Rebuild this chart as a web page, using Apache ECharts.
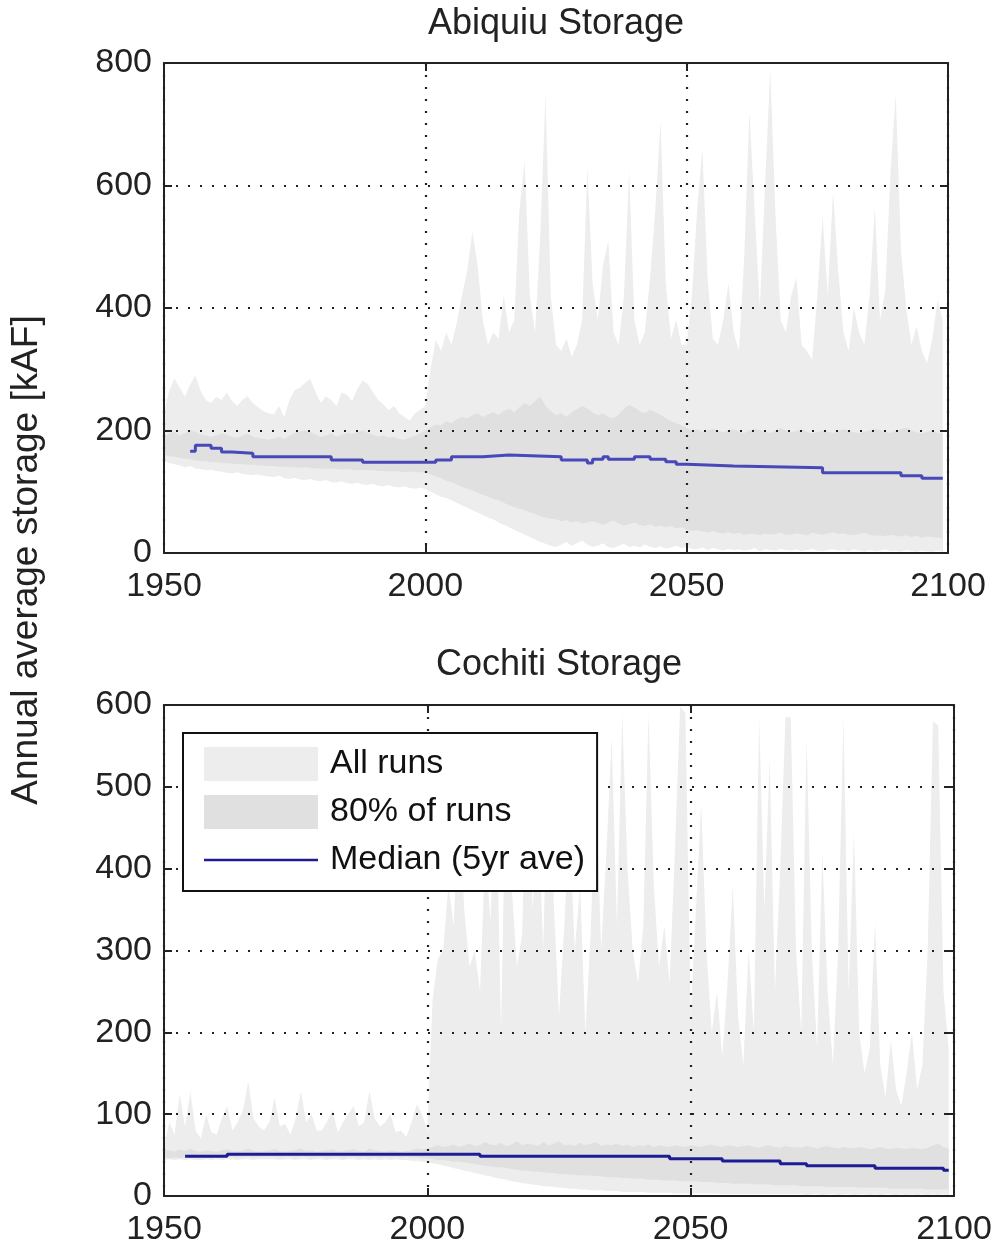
<!DOCTYPE html>
<html>
<head>
<meta charset="utf-8">
<script src="https://cdn.jsdelivr.net/npm/echarts@6/dist/echarts.min.js"></script>
<style>
html,body{margin:0;padding:0;background:#fff;}
#chart{width:996px;height:1253px;}
</style>
</head>
<body>
<div id="chart"></div>
<script>
// ---------------- DATA ----------------
const years = [];
for (let y = 1950; y <= 2099; y++) years.push(y);

const xTicks = [1950, 2000, 2050, 2100];
const abiquiuTicks = [0, 200, 400, 600, 800];
const cochitiTicks = [0, 100, 200, 300, 400, 500, 600];

const titles = ['Abiquiu Storage', 'Cochiti Storage'];
const yAxisName = 'Annual average storage [kAF]';
const legendNames = ['All runs', '80% of runs', 'Median (5yr ave)'];

// Abiquiu: envelope of all runs (max / min), 80% band (p90 / p10), annual 1950-2099
const abqMax = [
  230,265,285,270,255,275,290,265,250,245,
  255,250,262,248,240,250,256,245,238,232,
  228,226,240,222,250,266,270,278,284,262,
  245,256,250,240,262,258,248,268,282,276,
  262,250,242,233,240,228,222,216,228,234,
  240,300,348,330,360,340,375,420,460,525,
  470,380,340,360,350,420,360,380,560,640,
  420,360,520,750,420,340,330,350,320,340,
  380,630,440,380,470,510,360,340,420,625,
  380,340,360,450,560,705,440,350,380,340,
  340,420,560,660,450,350,340,380,440,360,
  330,480,720,560,400,600,790,550,380,360,
  420,450,340,330,315,420,550,420,590,460,
  360,330,400,360,340,420,565,380,430,620,
  750,495,400,340,370,330,310,350,413,380
];
const abqP90 = [
  190,195,198,192,196,200,198,194,192,190,
  192,195,193,190,188,192,195,190,188,186,
  185,187,190,186,192,196,198,200,197,193,
  190,192,195,190,193,196,194,197,200,196,
  193,190,192,188,190,186,185,188,192,195,
  200,205,210,208,215,212,218,222,220,225,
  228,222,226,230,225,232,236,230,238,245,
  240,248,255,240,232,225,228,222,230,235,
  240,236,230,225,228,222,220,226,235,242,
  238,232,228,234,230,226,220,215,212,208,
  205,200,202,198,200,203,199,197,200,202,
  198,196,200,203,201,198,196,200,204,200,
  197,199,202,198,195,197,200,198,196,199,
  202,200,197,195,198,200,203,201,198,196,
  199,202,205,200,197,195,198,200,196,195
];
const abqP10 = [
  160,158,157,155,154,153,151,150,150,148,
  148,147,147,146,145,145,144,144,143,143,
  142,142,141,141,140,140,139,140,139,138,
  138,137,138,137,136,137,136,135,136,135,
  135,134,134,133,134,133,132,133,132,132,
  132,128,125,122,118,116,112,108,105,102,
  98,95,92,88,86,82,78,75,72,70,
  66,64,60,58,56,55,52,54,50,52,
  48,50,52,49,46,50,53,48,45,47,
  50,46,44,47,43,45,42,44,40,42,
  38,36,37,35,34,36,33,32,34,31,
  33,30,32,31,29,32,30,31,33,30,
  30,32,31,29,33,31,30,32,34,31,
  32,30,29,31,33,30,28,29,27,30,
  28,27,29,26,28,25,27,26,25,24
];
const abqMin = [
  150,147,145,143,140,142,138,137,135,136,
  134,133,131,130,132,129,128,127,128,126,
  125,124,126,122,121,123,120,119,121,118,
  117,119,116,115,117,114,113,115,112,111,
  113,110,109,111,108,107,109,106,105,107,
  104,100,96,92,90,86,82,78,74,70,
  66,62,58,55,50,46,42,38,34,30,
  26,22,18,15,12,10,14,18,12,16,
  20,14,10,12,16,10,8,12,15,10,
  12,9,14,10,8,11,7,9,12,8,
  10,7,6,9,5,8,6,4,7,5,
  6,4,5,8,3,6,5,4,7,5,
  4,6,3,5,7,4,3,5,6,4,
  5,3,6,4,2,5,3,4,6,3,
  4,2,5,3,2,4,3,2,4,2
];
// Abiquiu median (5-yr average): years where the stepped value changes, and the value held from there
const abqMedYears = [1955,1956,1959,1961,1963,1967,1982,1988,2002,2005,2011,2016,2026,2031,2032,2034,2035,2040,2043,2046,2048,2050,2059,2076,2091,2095,2099];
const abqMedVals  = [166, 176, 171, 165, 163, 157, 152, 148, 152, 157, 160, 157, 152, 147, 153, 157, 153, 157, 153, 149, 145, 142, 139, 131, 126, 122, 122];

// Cochiti
const cocMax = [
  60,90,75,125,85,128,80,70,100,78,
  75,95,110,80,90,105,140,95,85,80,
  90,120,85,88,75,95,128,90,100,80,
  80,92,105,78,90,100,110,85,90,128,
  95,85,90,100,78,80,72,90,112,100,
  80,240,290,300,380,330,480,350,280,300,
  250,420,335,520,200,560,380,280,320,560,
  350,480,300,560,360,220,330,450,300,380,
  200,320,500,300,420,560,330,590,400,300,
  260,330,590,380,280,330,260,420,598,590,
  220,350,480,300,200,250,170,260,380,220,
  160,300,200,585,350,535,250,400,585,585,
  300,200,560,300,180,420,250,160,300,585,
  250,445,200,150,180,335,160,120,190,130,
  110,150,200,130,160,300,580,575,250,180
];
const cocP90 = [
  55,56,54,57,55,58,55,54,56,55,
  54,56,57,55,54,56,58,55,54,55,
  56,57,55,54,55,56,58,55,56,54,
  55,56,57,54,55,56,57,55,54,58,
  56,55,54,56,55,54,55,56,58,57,
  58,60,62,60,61,63,60,62,64,61,
  62,66,63,62,65,61,63,67,62,64,
  63,61,66,62,64,67,62,63,61,65,
  62,64,66,61,63,62,64,61,63,60,
  62,61,63,60,62,61,60,62,61,60,
  62,61,60,62,63,61,60,62,61,60,
  61,62,60,59,61,62,60,59,61,60,
  60,59,61,60,58,60,61,59,58,60,
  59,58,60,59,57,58,60,58,57,59,
  58,57,59,58,57,59,62,64,60,58
];
const cocP10 = [
  47,46,47,46,47,46,47,47,46,47,
  48,47,48,48,47,48,48,47,48,48,
  48,48,47,48,48,47,48,48,47,48,
  48,47,48,48,47,48,48,47,48,47,
  48,47,48,47,48,47,48,47,47,46,
  46,45,44,44,43,42,42,41,40,39,
  38,37,36,35,35,34,33,32,31,31,
  30,30,29,28,28,27,27,26,26,25,
  25,25,24,24,23,23,23,22,22,21,
  21,21,20,20,20,19,19,19,18,18,
  18,18,17,17,17,16,16,16,15,15,
  15,15,14,14,14,14,13,13,13,13,
  13,12,12,12,12,12,11,11,11,11,
  11,11,10,10,10,10,10,10,9,9,
  9,9,9,9,9,8,8,8,8,8
];
const cocMin = [
  44,45,44,45,44,45,44,44,45,44,
  45,44,45,45,44,45,45,44,45,45,
  45,45,44,45,45,44,45,45,44,45,
  45,44,45,45,44,45,45,44,45,44,
  45,44,45,44,45,44,44,43,43,42,
  42,40,39,37,36,34,33,31,30,28,
  27,25,24,22,21,20,18,17,16,15,
  14,13,12,12,11,10,10,9,9,8,
  8,7,7,7,6,6,6,5,5,5,
  5,5,4,4,4,4,4,3,3,3,
  3,3,3,3,3,3,2,2,2,2,
  2,2,2,2,2,2,2,2,2,2,
  2,2,1,2,2,1,2,2,1,2,
  2,1,2,2,1,2,1,2,2,1,
  2,1,2,1,2,1,2,1,2,1
];
const cocMedYears = [1954, 1962, 2010, 2046, 2056, 2067, 2072, 2085, 2098, 2099];
const cocMedVals  = [48.5, 51,   48.5, 45.5, 42.7, 39.5, 37,   34,   31.5, 31];

// ---------------- STYLE ----------------
const FONT = '"Liberation Sans", Arial, Helvetica, sans-serif';
const INK = '#222';
const C_ALL = '#ededed';
const C_80 = '#e0e0e0';
const MED_COLORS = ['#4848b8', '#1c1c94'];

function pairs(vals) { return years.map((y, i) => [y, vals[i]]); }
function medPairs(ys, vs) { return ys.map((y, i) => [y, vs[i]]); }

function areaSeries(name, vals, color, gi) {
  return {
    name: name, type: 'line', xAxisIndex: gi * 2, yAxisIndex: gi * 2,
    data: pairs(vals), symbol: 'none', silent: true, animation: false,
    lineStyle: { width: 0, opacity: 0 },
    itemStyle: { color: color },
    areaStyle: { color: color, opacity: 1 },
    z: 2
  };
}

const panels = [
  { max: abqMax, p90: abqP90, p10: abqP10, min: abqMin, my: abqMedYears, mv: abqMedVals, ticks: abiquiuTicks,
    grid: { left: 164, top: 63, width: 784, height: 490 } },
  { max: cocMax, p90: cocP90, p10: cocP10, min: cocMin, my: cocMedYears, mv: cocMedVals, ticks: cochitiTicks,
    grid: { left: 164, top: 705, width: 790, height: 491 } }
];

const grids = [], xAxes = [], yAxes = [], series = [];
const lineSt = { color: INK, width: 2 };
const labelSt = { fontSize: 34, fontFamily: FONT, color: INK };
const gridDots = { color: INK, width: 2.2, type: [2, 10] };

panels.forEach((p, gi) => {
  grids.push(p.grid);
  const xBase = {
    type: 'value', gridIndex: gi, min: xTicks[0], max: xTicks[xTicks.length - 1],
    interval: xTicks[1] - xTicks[0], z: 10,
    axisLine: { show: true, onZero: false, lineStyle: lineSt },
    axisTick: { show: true, inside: true, length: 8, lineStyle: lineSt }
  };
  xAxes.push(Object.assign({}, xBase, {
    position: 'bottom',
    axisLabel: Object.assign({ show: true, margin: 17, formatter: v => String(v) }, labelSt),
    splitLine: { show: true, lineStyle: gridDots }
  }));
  xAxes.push(Object.assign({}, xBase, {
    position: 'top', axisLabel: { show: false }, splitLine: { show: false }
  }));
  const yBase = {
    type: 'value', gridIndex: gi, min: p.ticks[0], max: p.ticks[p.ticks.length - 1],
    interval: p.ticks[1] - p.ticks[0], z: 10,
    axisLine: { show: true, onZero: false, lineStyle: lineSt },
    axisTick: { show: true, inside: true, length: 8, lineStyle: lineSt }
  };
  yAxes.push(Object.assign({}, yBase, {
    position: 'left',
    axisLabel: Object.assign({ show: true, margin: 12, formatter: v => String(v) }, labelSt),
    splitLine: { show: true, lineStyle: gridDots }
  }));
  yAxes.push(Object.assign({}, yBase, {
    position: 'right', axisLabel: { show: false }, splitLine: { show: false }
  }));

  series.push(areaSeries(legendNames[0], p.max, C_ALL, gi));
  series.push(areaSeries(legendNames[1], p.p90, C_80, gi));
  series.push(areaSeries('p10_' + gi, p.p10, C_ALL, gi));
  series.push(areaSeries('min_' + gi, p.min, '#ffffff', gi));
  series.push({
    name: legendNames[2], type: 'line', xAxisIndex: gi * 2, yAxisIndex: gi * 2,
    data: medPairs(p.my, p.mv), step: 'end', symbol: 'none', silent: true, animation: false,
    lineStyle: { color: MED_COLORS[gi], width: 3 },
    itemStyle: { color: MED_COLORS[gi] },
    z: 3
  });
});

const chart = echarts.init(document.getElementById('chart'), null, { renderer: 'canvas' });
chart.setOption({
  animation: false,
  backgroundColor: '#ffffff',
  grid: grids,
  xAxis: xAxes,
  yAxis: yAxes,
  series: series,
  legend: {
    orient: 'vertical', left: 183, top: 733,
    padding: [14, 12, 14, 21],
    itemWidth: 114, itemHeight: 34, itemGap: 14,
    backgroundColor: '#ffffff', borderColor: '#111', borderWidth: 2, borderRadius: 0,
    selectedMode: false, z: 20,
    textStyle: { fontSize: 34, fontFamily: FONT, color: '#111', padding: [0, 0, 0, 7] },
    data: [
      { name: legendNames[0], icon: 'rect', itemStyle: { color: C_ALL } },
      { name: legendNames[1], icon: 'rect', itemStyle: { color: C_80 } },
      { name: legendNames[2], icon: 'path://M0,0L114,0L114,2.5L0,2.5Z', itemStyle: { color: MED_COLORS[1] } }
    ]
  },
  graphic: [
    { type: 'text', x: 556, y: 24, z: 30,
      style: { text: titles[0], font: '36px ' + FONT, fill: INK, align: 'center', verticalAlign: 'middle', textAlign: 'center', textVerticalAlign: 'middle' } },
    { type: 'text', x: 559, y: 665, z: 30,
      style: { text: titles[1], font: '36px ' + FONT, fill: INK, align: 'center', verticalAlign: 'middle', textAlign: 'center', textVerticalAlign: 'middle' } },
    { type: 'text', x: 27, y: 560, rotation: Math.PI / 2, z: 30,
      style: { text: yAxisName, font: '37px ' + FONT, fill: INK, align: 'center', verticalAlign: 'middle', textAlign: 'center', textVerticalAlign: 'middle' } }
  ]
});
</script>
</body>
</html>
